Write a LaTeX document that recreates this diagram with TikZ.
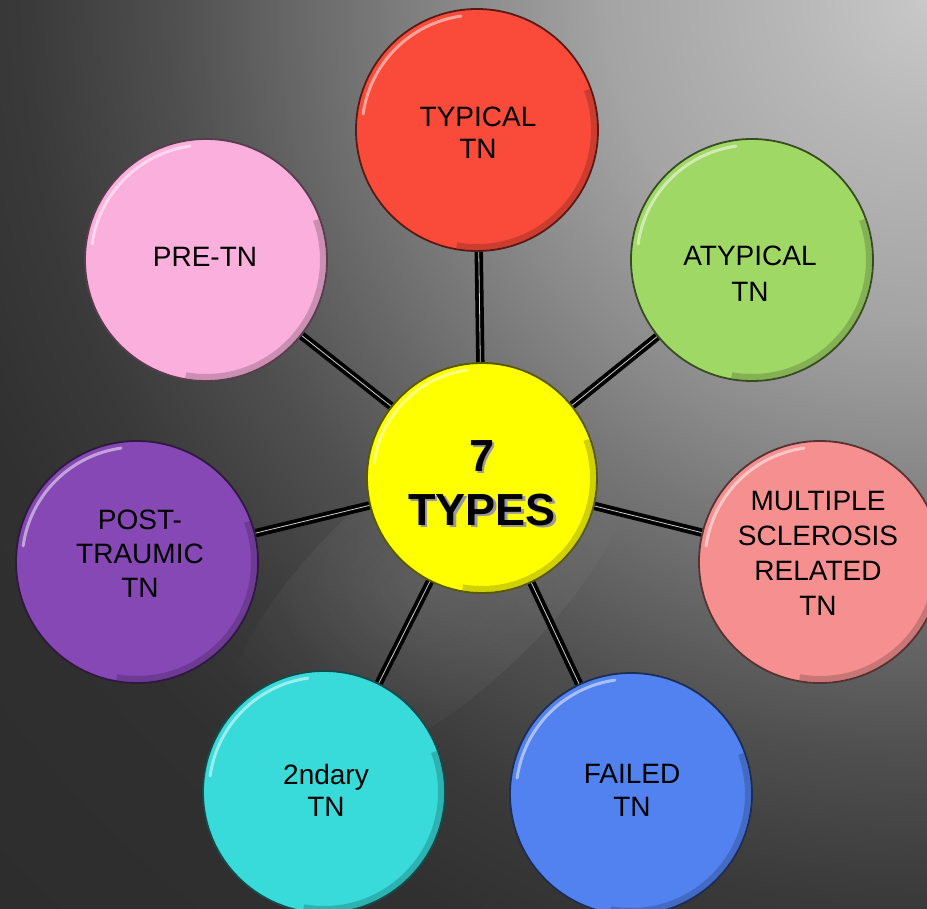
\documentclass[tikz,border=0pt]{standalone}
\usepackage{fontspec}
\setmainfont{Liberation Sans}
\usetikzlibrary{fadings}
\pgfdeclarelayer{bg}
\pgfdeclarelayer{conn}
\pgfsetlayers{bg,conn,main}

\definecolor{bg0}{RGB}{200,200,200}
\definecolor{bg1}{RGB}{184,184,184}
\definecolor{bg2}{RGB}{164,164,164}
\definecolor{bg3}{RGB}{140,140,140}
\definecolor{bg4}{RGB}{104,104,104}
\definecolor{bg5}{RGB}{80,80,80}
\definecolor{bg6}{RGB}{58,58,58}
\definecolor{bg7}{RGB}{48,48,48}
\definecolor{bg8}{RGB}{45,45,45}
\pgfdeclareradialshading{bgrad}{\pgfpoint{0bp}{0bp}}{color(0bp)=(bg0); color(2.5bp)=(bg1); color(6.15bp)=(bg2); color(8.65bp)=(bg3); color(12.1bp)=(bg4); color(14.4bp)=(bg5); color(17.3bp)=(bg6); color(19.8bp)=(bg7); color(25bp)=(bg8); color(50bp)=(bg8)}
\tikzfading[name=softedge, inner color=transparent!0, outer color=transparent!100]

\definecolor{cTyp}{RGB}{250,74,58}
\definecolor{cAty}{RGB}{160,216,102}
\definecolor{cPre}{RGB}{250,175,220}
\definecolor{cPost}{RGB}{133,72,180}
\definecolor{cMS}{RGB}{246,144,144}
\definecolor{cSnd}{RGB}{56,218,218}
\definecolor{cFail}{RGB}{82,130,240}
\definecolor{cCtr}{RGB}{255,255,0}

\tikzset{
  bubble/.style={circle, minimum size=242pt, inner sep=0pt, fill=#1, draw=#1!35!black, line width=1.8pt},
  lbl/.style={align=center, text=black, font=\fontsize{28}{34}\selectfont},
  conn/.style={line width=3.8pt, draw=black, double=gray!35, double distance=0.8pt},
}
\newcommand{\bevel}[2]{%
  \draw[black, opacity=.18, line width=6pt] ([shift={(-100:#2-4)}]#1.center) arc (-100:20:#2-4);
  \draw[white, opacity=.5, line width=3pt, line cap=round] ([shift={(98:#2-6)}]#1.center) arc (98:172:#2-6);
}

\begin{document}
\begin{tikzpicture}[x=1pt,y=1pt]
\useasboundingbox (0,0) rectangle (927,-909);
\begin{pgfonlayer}{bg}
  \clip (0,0) rectangle (927,-909);
  \fill[bg8] (0,0) rectangle (927,-909);
  \shade[shading=bgrad] (927,0) circle (1300);
  \begin{scope}[shift={(430,-590)}, rotate=42]
    \fill[white, opacity=.10, path fading=softedge] (0,0) ellipse (260 and 110);
  \end{scope}
\end{pgfonlayer}

% circles
\node[bubble=cCtr, minimum size=230pt] (ctr) at (482,-478) {};
\node[bubble=cTyp]  (typ)  at (477,-130) {};
\node[bubble=cAty]  (aty)  at (752,-260) {};
\node[bubble=cPre]  (pre)  at (206,-260) {};
\node[bubble=cPost] (post) at (137,-562) {};
\node[bubble=cMS]   (ms)   at (820,-562) {};
\node[bubble=cSnd]  (snd)  at (324,-792) {};
\node[bubble=cFail] (fail) at (631,-794) {};

\bevel{ctr}{115}
\bevel{typ}{121}
\bevel{aty}{121}
\bevel{pre}{121}
\bevel{post}{121}
\bevel{ms}{121}
\bevel{snd}{121}
\bevel{fail}{121}

% connectors
\begin{pgfonlayer}{conn}
  \foreach \n in {typ,aty,pre,post,ms,snd,fail}
    \draw[conn] (ctr) -- (\n);
\end{pgfonlayer}

% labels
\node[lbl, font=\fontsize{28}{32}\selectfont] (typT) at (478,-133) {TYPICAL\\TN};
\node[lbl, font=\fontsize{28}{36}\selectfont] (atyT) at (750,-274) {ATYPICAL\\TN};
\node[lbl] (preT) at (205,-257) {PRE-TN};
\node[lbl] (postT) at (140,-554) {POST-\\TRAUMIC\\TN};
\node[lbl, font=\fontsize{28}{35}\selectfont] (msT) at (818,-553) {MULTIPLE\\SCLEROSIS\\RELATED\\TN};
\node[lbl, font=\fontsize{28}{32}\selectfont] (sndT) at (326,-790) {2ndary\\TN};
\node[lbl, font=\fontsize{28}{33}\selectfont] (failT) at (632,-790) {FAILED\\TN};
\node[lbl, text=black!40, font=\bfseries\fontsize{45}{54}\selectfont] (ctrS) at (484.5,-485.5) {7\\TYPES};
\node[lbl, font=\bfseries\fontsize{45}{54}\selectfont] (ctrT) at (482,-483) {7\\TYPES};
\end{tikzpicture}
\end{document}
